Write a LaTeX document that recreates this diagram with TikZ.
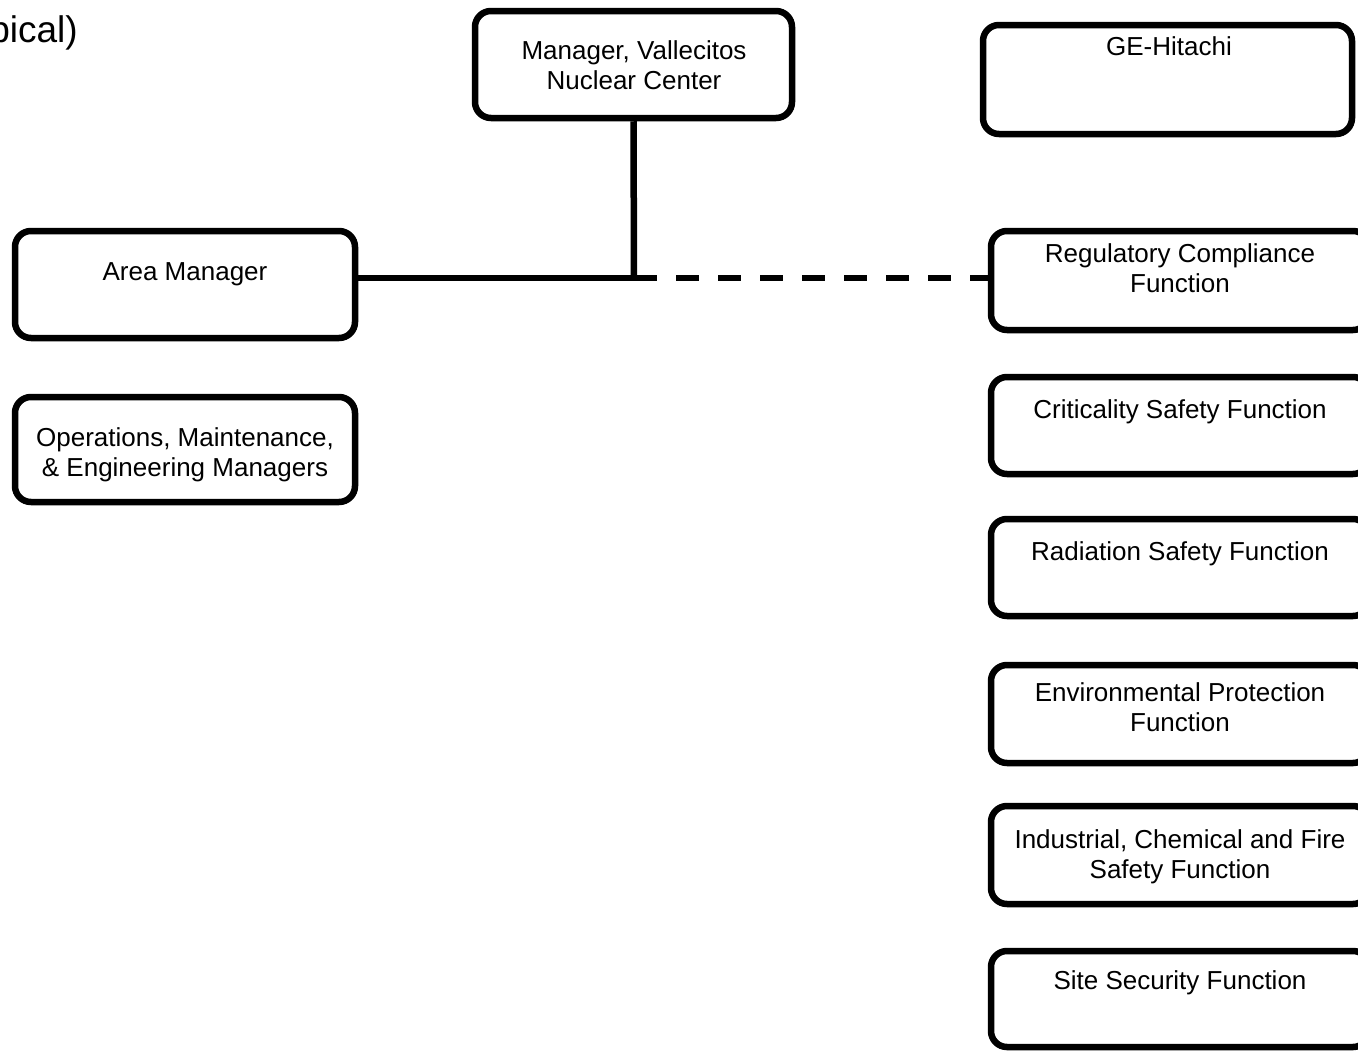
\documentclass[tikz,border=0pt]{standalone}
\usepackage{fontspec}
\setmainfont{Liberation Sans}
\begin{document}
\begin{tikzpicture}[x=1pt,y=-1pt,
  box/.style={draw=black,line width=6.5pt,rounded corners=16pt,fill=white,inner sep=0pt,minimum width=#1},
  lbl/.style={anchor=base,align=center,font=\fontsize{26}{30}\selectfont,inner sep=0pt},
  conn/.style={draw=black,line width=6.5pt},
  dsh/.style={draw=black,line width=6.5pt,dash pattern=on 23pt off 19pt}]
\useasboundingbox (0,0) rectangle (1358,1052);
\clip (0,0) rectangle (1358,1052);
\fill[white] (0,0) rectangle (1358,1052);
% title fragment
\node[lbl,anchor=base east,font=\fontsize{37}{42}\selectfont] (ttl) at (78,42) {pical)};
% boxes
\node[box=317pt,minimum height=107pt] (mgr) at (633.5,64.5) {};
\node[box=369pt,minimum height=109pt] (geh) at (1167.5,79.5) {};
\node[box=340pt,minimum height=107pt] (am) at (185,284.5) {};
\node[box=340pt,minimum height=105pt] (ops) at (185,449.5) {};
\node[box=378pt,minimum height=99pt] (reg) at (1180,280.5) {};
\node[box=378pt,minimum height=97pt] (crit) at (1180,425.5) {};
\node[box=378pt,minimum height=97pt] (rad) at (1180,567.5) {};
\node[box=378pt,minimum height=98pt] (env) at (1180,714) {};
\node[box=378pt,minimum height=98pt] (ind) at (1180,855) {};
\node[box=378pt,minimum height=96pt] (site) at (1180,999) {};
% texts (multi-line: base = last line's baseline)
\node[lbl] (tmgr) at (634,89) {Manager, Vallecitos\\Nuclear Center};
\node[lbl] (tgeh) at (1169,55) {GE-Hitachi};
\node[lbl] (tam) at (185,280) {Area Manager};
\node[lbl] (tops) at (185,476) {Operations, Maintenance,\\\& Engineering Managers};
\node[lbl] (treg) at (1180,292) {Regulatory Compliance\\Function};
\node[lbl] (tcrit) at (1180,418) {Criticality Safety Function};
\node[lbl] (trad) at (1180,560) {Radiation Safety Function};
\node[lbl] (tenv) at (1180,731) {Environmental Protection\\Function};
\node[lbl] (tind) at (1180,878) {Industrial, Chemical and Fire\\Safety Function};
\node[lbl] (tsite) at (1180,989) {Site Security Function};
% connectors
\coordinate (j) at (634,278);
\draw[conn] (mgr.south) -- (j);
\draw[conn] (am.east |- j) -- ([xshift=6pt]j);
\draw[dsh] (j) -- (reg.west |- j);
\end{tikzpicture}
\end{document}
